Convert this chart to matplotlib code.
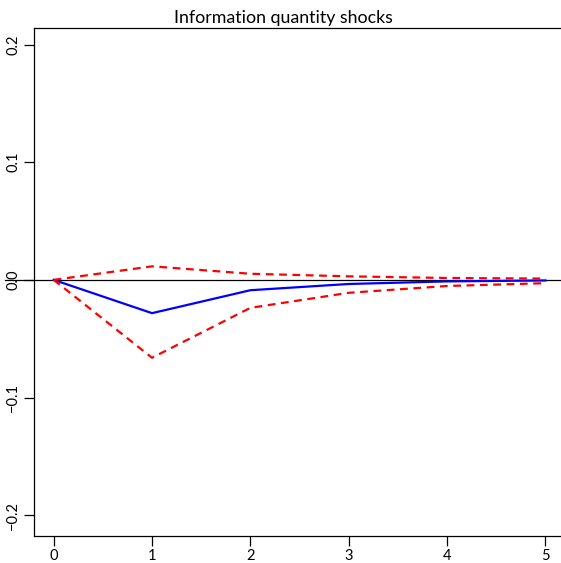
import matplotlib
matplotlib.use("Agg")
import matplotlib.pyplot as plt

horizon = [0, 1, 2, 3, 4, 5]
irf = [0.0, -0.0283, -0.0088, -0.0035, -0.0013, -0.0005]
upper = [0.0, 0.0115, 0.0052, 0.0030, 0.0016, 0.0011]
lower = [0.0, -0.0662, -0.0238, -0.0110, -0.0052, -0.0028]
yticks = [-0.2, -0.1, 0.0, 0.1, 0.2]
ytick_labels = ["\u22120.2", "\u22120.1", "0.0", "0.1", "0.2"]
title = "Information quantity shocks"

plt.rcParams["font.family"] = ["Lato", "DejaVu Sans"]

W, H = 561, 563
fig = plt.figure(figsize=(W / 100, H / 100), dpi=100)
left, right, top, bottom = 34, 568, 28, 535.5
ax = fig.add_axes([left / W, 1 - bottom / H, (right - left) / W, (bottom - top) / H])

ax.plot(horizon, irf, color="#0000ff", lw=1.6, solid_joinstyle="miter")
ax.plot(horizon, upper, color="#ff0000", lw=1.6, ls=(0, (3.5, 2.5)))
ax.plot(horizon, lower, color="#ff0000", lw=1.6, ls=(0, (3.5, 2.5)))
ax.plot([-0.055, 1.0], [0, 0], transform=ax.get_yaxis_transform(), color="black", lw=0.9, clip_on=False, zorder=1)

ax.set_xlim(-0.2, 5.23)
ax.set_ylim(-0.2173, 0.2141)
ax.set_xticks(horizon)
ax.set_xticklabels([str(h) for h in horizon])
ax.set_yticks(yticks)
ax.set_yticklabels(ytick_labels, rotation=90, va="center")
ax.tick_params(direction="out", length=7, width=0.9, labelsize=10.5, pad=3)
for s in ax.spines.values():
    s.set_linewidth(0.9)

fig.text(283 / W, 1 - 18.5 / H, title, ha="center", va="center", fontsize=12.8)
fig.savefig("out.png", dpi=100)
